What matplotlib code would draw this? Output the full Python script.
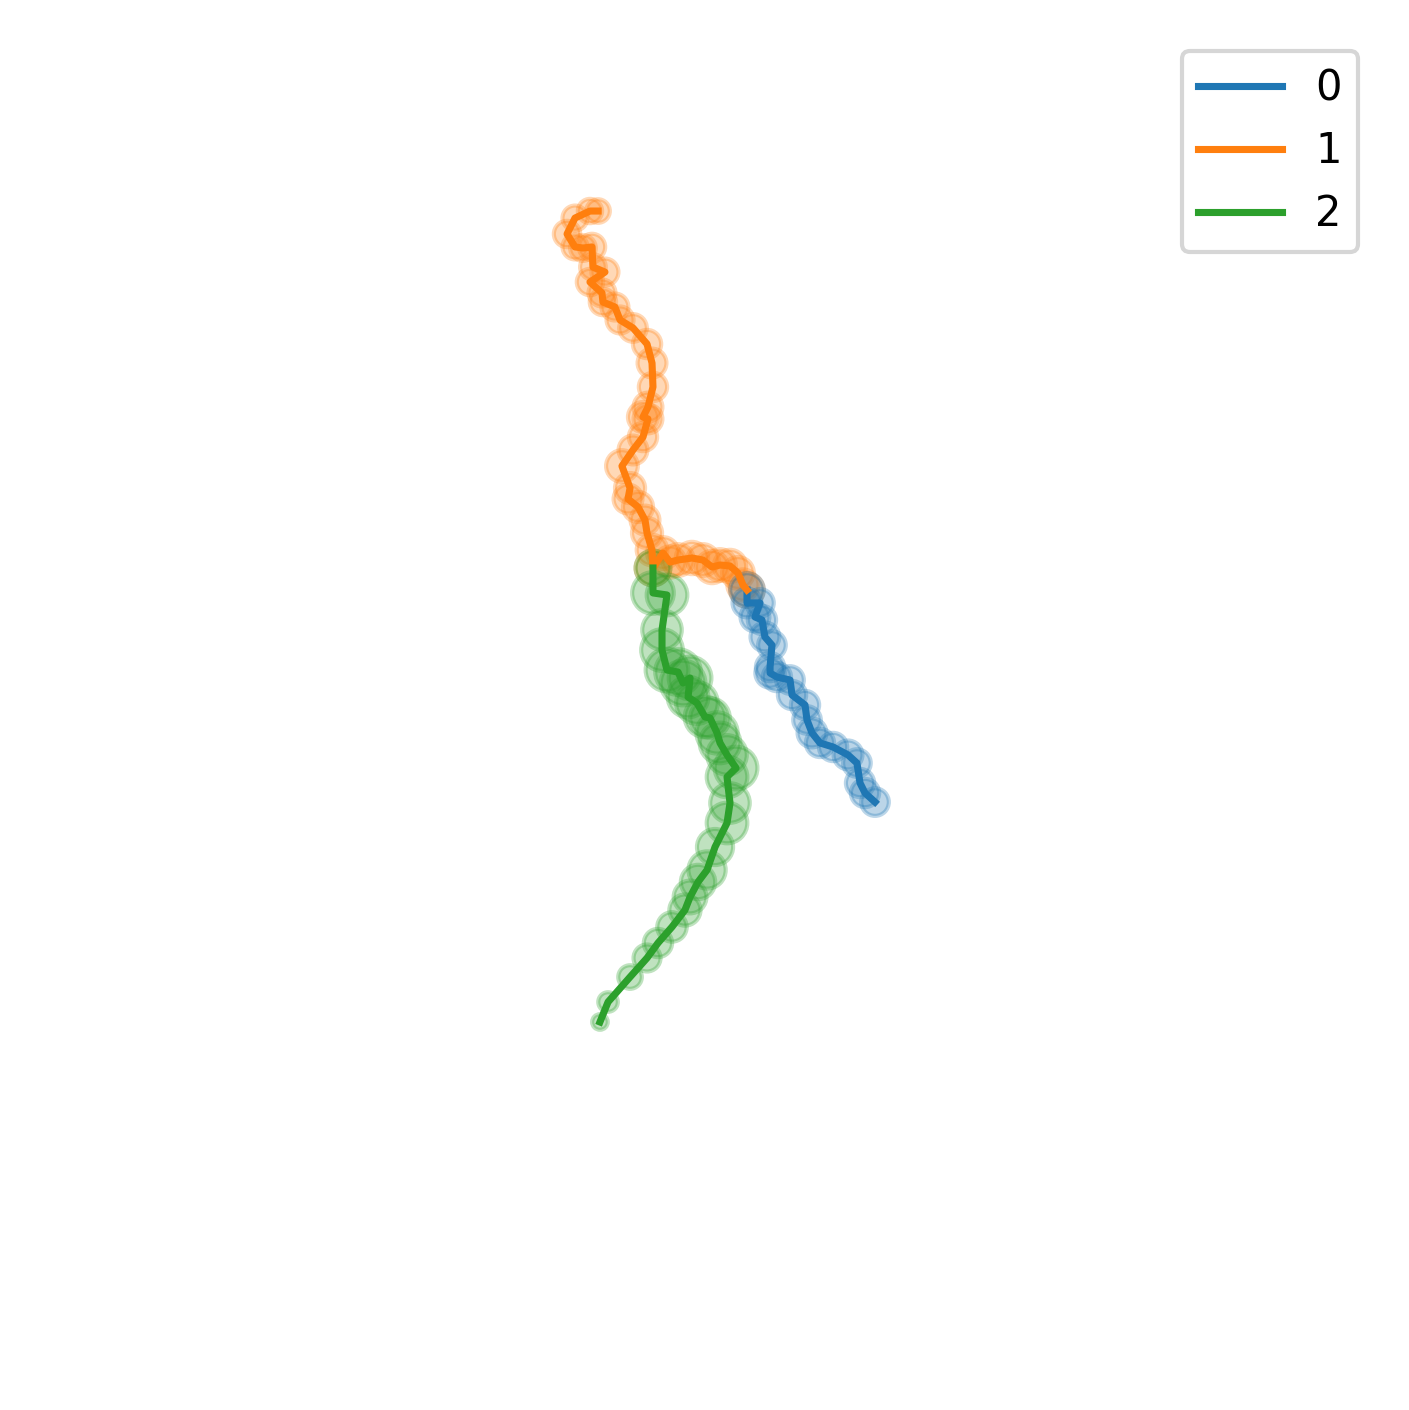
import numpy as np
import matplotlib.pyplot as plt

# walk coordinates (axes spans 0..10 in both directions)
x0 = [5.315, 5.315, 5.411, 5.374, 5.426, 5.448, 5.500, 5.486, 5.486, 5.537, 5.634,
      5.649, 5.745, 5.760, 5.797, 5.856, 5.953, 6.064, 6.130, 6.153, 6.190, 6.264]
y0 = [5.852, 5.756, 5.756, 5.652, 5.630, 5.504, 5.444, 5.281, 5.237, 5.207, 5.185,
      5.074, 5.000, 4.889, 4.793, 4.719, 4.689, 4.630, 4.570, 4.422, 4.348, 4.281]
s0 = [65, 48, 44, 48, 46, 48, 44, 46, 50, 46, 44,
      46, 46, 44, 48, 46, 46, 48, 44, 46, 46, 44]

x1 = [4.211, 4.151, 4.040, 3.981, 4.040, 4.099, 4.166, 4.173, 4.262, 4.151, 4.240,
      4.247, 4.336, 4.374, 4.470, 4.574, 4.611, 4.618, 4.581, 4.544, 4.581, 4.544,
      4.470, 4.388, 4.448, 4.433, 4.507, 4.559, 4.574, 4.611, 4.618, 4.692, 4.744,
      4.804, 4.907, 4.988, 5.056, 5.115, 5.189, 5.248, 5.285, 5.315]
y1 = [8.659, 8.659, 8.607, 8.489, 8.393, 8.385, 8.393, 8.244, 8.207, 8.133, 8.052,
      7.985, 7.948, 7.852, 7.793, 7.674, 7.533, 7.356, 7.207, 7.133, 7.119, 6.985,
      6.889, 6.770, 6.607, 6.526, 6.467, 6.370, 6.274, 6.148, 6.015, 6.126, 6.059,
      6.074, 6.089, 6.074, 6.022, 6.037, 6.030, 5.978, 5.889, 5.852]
s1 = [32, 34, 36, 40, 36, 38, 40, 38, 42, 40, 42,
      40, 42, 42, 44, 46, 48, 46, 48, 52, 48, 46,
      48, 58, 52, 48, 52, 48, 52, 54, 70, 58, 56,
      58, 60, 58, 60, 58, 60, 58, 56, 65]

x2 = [4.618, 4.618, 4.722, 4.685, 4.685, 4.722, 4.804, 4.841, 4.893, 4.878, 4.944,
      5.004, 5.041, 5.093, 5.115, 5.167, 5.234, 5.167, 5.189, 5.167, 5.078, 5.019,
      4.952, 4.893, 4.855, 4.759, 4.655, 4.574, 4.448, 4.285, 4.225]
y2 = [6.015, 5.830, 5.815, 5.556, 5.407, 5.259, 5.244, 5.163, 5.200, 5.059, 5.015,
      4.911, 4.904, 4.793, 4.719, 4.630, 4.533, 4.467, 4.274, 4.126, 3.948, 3.778,
      3.689, 3.578, 3.481, 3.356, 3.237, 3.126, 2.985, 2.800, 2.652]
s2 = [70, 100, 95, 90, 100, 105, 120, 115, 105, 95, 100,
      95, 90, 98, 95, 90, 105, 95, 90, 95, 75, 80,
      68, 62, 56, 50, 46, 42, 32, 22, 14]

walks = [(x0, y0, s0), (x1, y1, s1), (x2, y2, s2)]
colors = ['C0', 'C1', 'C2']

fig = plt.figure(figsize=(1409 / 300, 1410 / 300), dpi=300)
ax = fig.add_axes([30 / 1409, 30 / 1410, 1349 / 1409, 1350 / 1410])

# orange markers sit underneath the blue and green ones at the junctions
for i in [1, 0, 2]:
    xs, ys, ss = walks[i]
    ax.scatter(xs, ys, s=ss, color=colors[i], alpha=0.3)

for i, (xs, ys, ss) in enumerate(walks):
    ax.plot(xs, ys, color=colors[i], lw=1.7, label=str(i))

ax.set_xlim(0, 10)
ax.set_ylim(0, 10)
ax.axis('off')
ax.legend(loc='upper right')

fig.savefig('out.png', dpi=300)
